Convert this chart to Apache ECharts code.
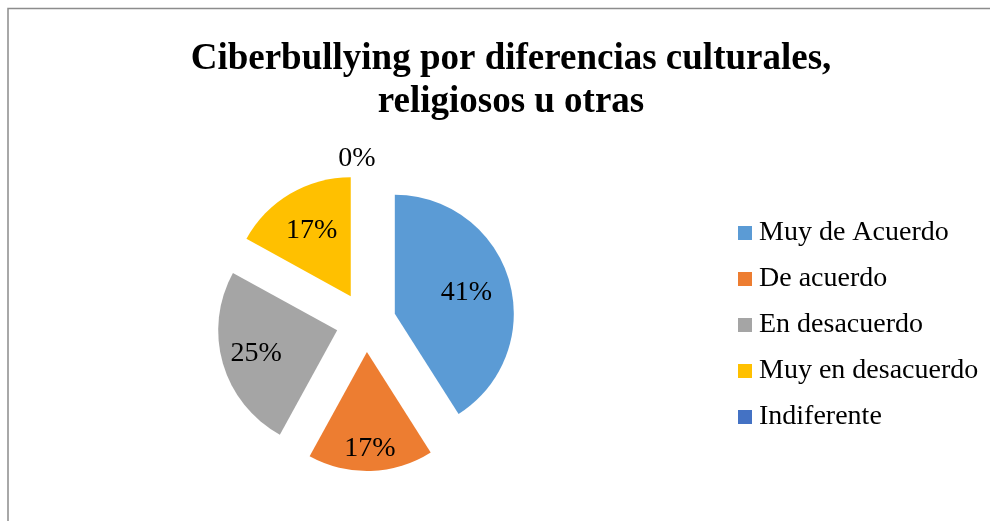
<!DOCTYPE html>
<html>
<head>
<meta charset="utf-8">
<script src="https://cdn.jsdelivr.net/npm/echarts@6/dist/echarts.min.js"></script>
<style>
  html, body { margin: 0; padding: 0; background: #ffffff; }
  #chart { width: 990px; height: 521px; }
</style>
</head>
<body>
<div id="chart"></div>
<script>
// categorías y valores (porcentaje)
const categories = ["Muy de Acuerdo", "De acuerdo", "En desacuerdo", "Muy en desacuerdo", "Indiferente"];
const values = [41, 17, 25, 17, 0];
const colors = ["#5B9BD5", "#ED7D31", "#A5A5A5", "#FFC000", "#4472C4"];

const FONT = "'Liberation Serif', 'Times New Roman', serif";
const PIE_CENTER = [366, 322];
const PIE_RADIUS = 119;

const chart = echarts.init(document.getElementById("chart"));

/**
 * Aleja las etiquetas internas del centro, como hace Excel.
 * La etiqueta del 0% queda fuera, encima del pastel.
 */
function pushLabelOut(params) {
  const rect = params.labelRect;
  const lx = rect.x + rect.width / 2;
  const ly = rect.y + rect.height / 2;
  if (params.dataIndex === 4) {
    return { dx: 357 - lx, dy: 189 - ly };
  }
  const push = [12, 34, 22, 14][params.dataIndex];
  const vx = lx - PIE_CENTER[0];
  const vy = ly - PIE_CENTER[1];
  const len = Math.sqrt(vx * vx + vy * vy) || 1;
  return {
    dx: (vx / len) * push,
    dy: (vy / len) * push,
  };
}

const seriesData = categories.map(function buildItem(name, i) {
  return {
    name: name,
    value: values[i],
    selected: true,
    itemStyle: { color: colors[i] },
  };
});

chart.setOption({
  animation: false,
  backgroundColor: "#ffffff",
  color: colors,
  title: {
    text: "Ciberbullying por diferencias culturales,\nreligiosos u otras",
    left: 506,
    top: 33,
    textAlign: "center",
    textStyle: {
      fontFamily: FONT,
      fontWeight: "bold",
      fontSize: 37,
      lineHeight: 43,
      color: "#000000",
    },
  },
  legend: {
    orient: "vertical",
    left: 733,
    top: 214,
    padding: 5,
    itemWidth: 14,
    itemHeight: 14,
    itemGap: 18,
    icon: "rect",
    selectedMode: false,
    textStyle: {
      fontFamily: FONT,
      fontSize: 28,
      lineHeight: 27,
      color: "#000000",
      padding: [0, 0, 0, 2],
    },
    data: categories,
  },
  graphic: [
    {
      type: "rect",
      shape: { x: 8, y: 8.5, width: 1200, height: 800 },
      style: { fill: "none", stroke: "#8c8c8c", lineWidth: 1.5 },
      silent: true,
    },
  ],
  series: [
    {
      type: "pie",
      center: PIE_CENTER,
      radius: PIE_RADIUS,
      startAngle: 90,
      clockwise: true,
      selectedMode: "multiple",
      selectedOffset: 30,
      avoidLabelOverlap: false,
      emphasis: { disabled: true },
      label: {
        show: true,
        position: "inside",
        formatter: "{c}%",
        fontFamily: FONT,
        fontSize: 28,
        color: "#000000",
      },
      labelLine: { show: false },
      labelLayout: pushLabelOut,
      data: seriesData,
    },
  ],
});
</script>
</body>
</html>
